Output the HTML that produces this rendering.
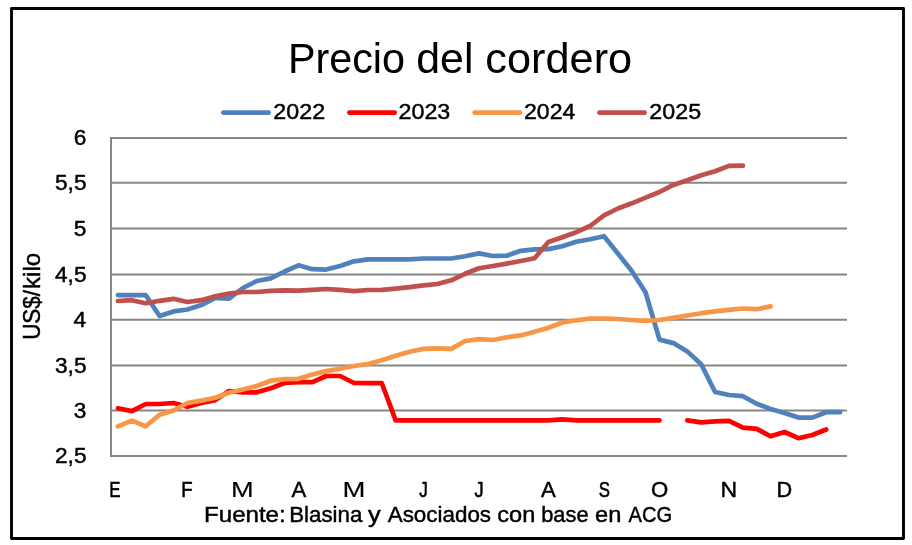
<!DOCTYPE html>
<html><head><meta charset="utf-8"><title>Precio del cordero</title>
<style>html,body{margin:0;padding:0;background:#fff;width:912px;height:545px;overflow:hidden}svg{display:block;will-change:transform}</style>
</head><body>
<svg width="912" height="545" viewBox="0 0 912 545">
<rect x="11.5" y="8.5" width="892" height="530" fill="#fff" stroke="#000" stroke-width="2.9" stroke-linejoin="round"/>
<line x1="110" y1="138.00" x2="847" y2="138.00" stroke="#868686" stroke-width="2"/>
<line x1="110" y1="182.70" x2="847" y2="182.70" stroke="#868686" stroke-width="2"/>
<line x1="110" y1="228.60" x2="847" y2="228.60" stroke="#868686" stroke-width="2"/>
<line x1="110" y1="274.60" x2="847" y2="274.60" stroke="#868686" stroke-width="2"/>
<line x1="110" y1="319.70" x2="847" y2="319.70" stroke="#868686" stroke-width="2"/>
<line x1="110" y1="365.60" x2="847" y2="365.60" stroke="#868686" stroke-width="2"/>
<line x1="110" y1="410.60" x2="847" y2="410.60" stroke="#868686" stroke-width="2"/>
<line x1="110" y1="456.00" x2="847" y2="456.00" stroke="#868686" stroke-width="2"/>
<line x1="111" y1="137" x2="111" y2="457" stroke="#868686" stroke-width="2"/>
<text transform="translate(73.82 145.00) scale(1.0300 1)" font-size="22" font-family="'Liberation Sans', Arial, sans-serif" stroke="#000" stroke-width="0.45">6</text>
<text transform="translate(55.01 189.70) scale(1.0300 1)" font-size="22" font-family="'Liberation Sans', Arial, sans-serif" stroke="#000" stroke-width="0.45">5,5</text>
<text transform="translate(73.82 235.60) scale(1.0300 1)" font-size="22" font-family="'Liberation Sans', Arial, sans-serif" stroke="#000" stroke-width="0.45">5</text>
<text transform="translate(55.01 281.60) scale(1.0300 1)" font-size="22" font-family="'Liberation Sans', Arial, sans-serif" stroke="#000" stroke-width="0.45">4,5</text>
<text transform="translate(73.59 326.70) scale(1.0300 1)" font-size="22" font-family="'Liberation Sans', Arial, sans-serif" stroke="#000" stroke-width="0.45">4</text>
<text transform="translate(55.01 372.60) scale(1.0300 1)" font-size="22" font-family="'Liberation Sans', Arial, sans-serif" stroke="#000" stroke-width="0.45">3,5</text>
<text transform="translate(73.82 417.60) scale(1.0300 1)" font-size="22" font-family="'Liberation Sans', Arial, sans-serif" stroke="#000" stroke-width="0.45">3</text>
<text transform="translate(55.01 463.00) scale(1.0300 1)" font-size="22" font-family="'Liberation Sans', Arial, sans-serif" stroke="#000" stroke-width="0.45">2,5</text>
<text transform="translate(109.30 496.90) scale(0.7384 1)" font-size="22.9" font-family="'Liberation Sans', Arial, sans-serif" stroke="#000" stroke-width="0.60">E</text>
<text transform="translate(181.36 496.90) scale(0.8122 1)" font-size="22.9" font-family="'Liberation Sans', Arial, sans-serif" stroke="#000" stroke-width="0.60">F</text>
<text transform="translate(231.07 496.90) scale(1.1880 1)" font-size="22.9" font-family="'Liberation Sans', Arial, sans-serif" stroke="#000" stroke-width="0.15">M</text>
<text transform="translate(291.40 496.90) scale(0.9660 1)" font-size="22.9" font-family="'Liberation Sans', Arial, sans-serif" stroke="#000" stroke-width="0.45">A</text>
<text transform="translate(342.45 496.90) scale(1.2009 1)" font-size="22.9" font-family="'Liberation Sans', Arial, sans-serif" stroke="#000" stroke-width="0.15">M</text>
<text transform="translate(419.16 496.90) scale(0.7456 1)" font-size="22.9" font-family="'Liberation Sans', Arial, sans-serif" stroke="#000" stroke-width="0.60">J</text>
<text transform="translate(474.58 496.90) scale(0.7988 1)" font-size="22.9" font-family="'Liberation Sans', Arial, sans-serif" stroke="#000" stroke-width="0.60">J</text>
<text transform="translate(541.00 496.90) scale(0.9660 1)" font-size="22.9" font-family="'Liberation Sans', Arial, sans-serif" stroke="#000" stroke-width="0.45">A</text>
<text transform="translate(598.66 496.90) scale(0.7355 1)" font-size="22.9" font-family="'Liberation Sans', Arial, sans-serif" stroke="#000" stroke-width="0.60">S</text>
<text transform="translate(651.06 496.90) scale(0.9683 1)" font-size="22.9" font-family="'Liberation Sans', Arial, sans-serif" stroke="#000" stroke-width="0.45">O</text>
<text transform="translate(720.61 496.90) scale(1.0036 1)" font-size="22.9" font-family="'Liberation Sans', Arial, sans-serif" stroke="#000" stroke-width="0.45">N</text>
<text transform="translate(776.47 496.90) scale(0.9461 1)" font-size="22.9" font-family="'Liberation Sans', Arial, sans-serif" stroke="#000" stroke-width="0.45">D</text>
<text transform="rotate(-90) translate(-339.87 39.7) scale(0.9767 1)" font-size="23" font-family="'Liberation Sans', Arial, sans-serif" stroke="#000" stroke-width="0.45">US$/</text>
<text transform="rotate(-90) translate(-288.94 39.7) scale(1.0435 1)" font-size="23" font-family="'Liberation Sans', Arial, sans-serif" stroke="#000" stroke-width="0.45">kilo</text>
<text transform="translate(287.89 72.90) scale(0.9840 1)" font-size="42" font-family="'Liberation Sans', Arial, sans-serif">Precio</text>
<text transform="translate(416.29 72.90) scale(1.0201 1)" font-size="42" font-family="'Liberation Sans', Arial, sans-serif">del</text>
<text transform="translate(485.37 72.90) scale(1.0308 1)" font-size="42" font-family="'Liberation Sans', Arial, sans-serif">cordero</text>
<text transform="translate(204.07 521.70) scale(1.0603 1)" font-size="22.7" font-family="'Liberation Sans', Arial, sans-serif" stroke="#000" stroke-width="0.45">Fuente:</text>
<text transform="translate(289.21 521.70) scale(0.9829 1)" font-size="22.7" font-family="'Liberation Sans', Arial, sans-serif" stroke="#000" stroke-width="0.45">Blasina</text>
<text transform="translate(368.10 521.70) scale(1.1189 1)" font-size="22.7" font-family="'Liberation Sans', Arial, sans-serif" stroke="#000" stroke-width="0.45">y</text>
<text transform="translate(387.70 521.70) scale(0.9869 1)" font-size="22.7" font-family="'Liberation Sans', Arial, sans-serif" stroke="#000" stroke-width="0.45">Asociados</text>
<text transform="translate(497.26 521.70) scale(1.0386 1)" font-size="22.7" font-family="'Liberation Sans', Arial, sans-serif" stroke="#000" stroke-width="0.45">con</text>
<text transform="translate(541.19 521.70) scale(0.9619 1)" font-size="22.7" font-family="'Liberation Sans', Arial, sans-serif" stroke="#000" stroke-width="0.45">base</text>
<text transform="translate(595.05 521.70) scale(1.0424 1)" font-size="22.7" font-family="'Liberation Sans', Arial, sans-serif" stroke="#000" stroke-width="0.45">en</text>
<text transform="translate(628.60 521.70) scale(0.8874 1)" font-size="22.7" font-family="'Liberation Sans', Arial, sans-serif" stroke="#000" stroke-width="0.45">ACG</text>
<line x1="223.3" y1="112.6" x2="268.7" y2="112.6" stroke="#4F81BD" stroke-width="4.6" stroke-linecap="round"/>
<text transform="translate(273.34 118.90) scale(1.0169 1)" font-size="22.9" font-family="'Liberation Sans', Arial, sans-serif" stroke="#000" stroke-width="0.45">2022</text>
<line x1="349.3" y1="112.6" x2="394.7" y2="112.6" stroke="#FF0000" stroke-width="4.6" stroke-linecap="round"/>
<text transform="translate(398.54 118.90) scale(1.0169 1)" font-size="22.9" font-family="'Liberation Sans', Arial, sans-serif" stroke="#000" stroke-width="0.45">2023</text>
<line x1="474.6" y1="112.6" x2="520.0" y2="112.6" stroke="#F79646" stroke-width="4.6" stroke-linecap="round"/>
<text transform="translate(524.05 118.90) scale(1.0074 1)" font-size="22.9" font-family="'Liberation Sans', Arial, sans-serif" stroke="#000" stroke-width="0.45">2024</text>
<line x1="599.3" y1="112.6" x2="644.7" y2="112.6" stroke="#C0504D" stroke-width="4.6" stroke-linecap="round"/>
<text transform="translate(649.34 118.90) scale(1.0169 1)" font-size="22.9" font-family="'Liberation Sans', Arial, sans-serif" stroke="#000" stroke-width="0.45">2025</text>
<path d="M117.9 295.1 L131.8 295.1 L145.7 295.1 L159.6 316.0 L173.5 311.4 L187.4 309.5 L201.3 305.1 L215.2 298.0 L229.0 298.7 L242.9 288.0 L256.8 281.0 L270.7 278.4 L284.6 271.5 L298.5 265.3 L312.4 269.2 L326.2 269.6 L340.1 266.0 L354.0 261.3 L367.9 259.3 L381.8 259.3 L395.7 259.3 L409.6 259.3 L423.5 258.5 L437.3 258.5 L451.2 258.5 L465.1 256.3 L479.0 253.4 L492.9 256.0 L506.8 255.7 L520.7 250.8 L534.6 249.4 L548.4 249.1 L562.3 246.3 L576.2 241.8 L590.1 239.3 L604.0 236.2 L617.9 253.5 L631.8 271.0 L645.6 292.5 L659.5 339.6 L673.4 343.1 L687.3 351.4 L701.2 364.3 L715.1 392.0 L729.0 395.0 L742.9 396.2 L756.7 403.8 L770.6 409.0 L784.5 413.0 L798.4 417.6 L812.3 417.6 L826.2 412.2 L840.1 412.2" fill="none" stroke="#4F81BD" stroke-width="4.7" stroke-linecap="round" stroke-linejoin="round"/>
<path d="M117.9 408.3 L131.8 411.1 L145.7 404.0 L159.6 404.0 L173.5 403.0 L187.4 406.8 L201.3 403.0 L215.2 400.1 L229.0 391.0 L242.9 392.5 L256.8 392.3 L270.7 388.2 L284.6 383.0 L298.5 382.2 L312.4 382.2 L326.2 376.0 L340.1 376.0 L354.0 383.0 L367.9 383.2 L381.8 383.2 L395.7 420.4 L409.6 420.4 L423.5 420.4 L437.3 420.4 L451.2 420.4 L465.1 420.4 L479.0 420.4 L492.9 420.4 L506.8 420.4 L520.7 420.4 L534.6 420.4 L548.4 420.4 L562.3 419.4 L576.2 420.4 L590.1 420.4 L604.0 420.4 L617.9 420.4 L631.8 420.4 L645.6 420.4 L659.5 420.4 M687.3 420.4 L701.2 422.4 L715.1 421.4 L729.0 420.9 L742.9 427.6 L756.7 428.9 L770.6 436.3 L784.5 432.0 L798.4 438.2 L812.3 435.0 L826.2 429.5" fill="none" stroke="#FF0000" stroke-width="4.7" stroke-linecap="round" stroke-linejoin="round"/>
<path d="M117.9 426.3 L131.8 420.6 L145.7 426.3 L159.6 414.8 L173.5 410.5 L187.4 403.0 L201.3 400.6 L215.2 397.7 L229.0 392.7 L242.9 389.5 L256.8 386.0 L270.7 380.7 L284.6 379.1 L298.5 378.8 L312.4 374.5 L326.2 371.1 L340.1 368.8 L354.0 366.0 L367.9 364.0 L381.8 360.3 L395.7 355.7 L409.6 351.7 L423.5 348.9 L437.3 348.3 L451.2 348.9 L465.1 341.0 L479.0 339.2 L492.9 340.0 L506.8 337.3 L520.7 335.4 L534.6 331.7 L548.4 327.7 L562.3 322.5 L576.2 320.3 L590.1 318.5 L604.0 318.5 L617.9 319.0 L631.8 320.0 L645.6 320.9 L659.5 320.0 L673.4 317.9 L687.3 315.5 L701.2 313.2 L715.1 311.3 L729.0 309.9 L742.9 308.5 L756.7 309.2 L770.6 306.4" fill="none" stroke="#F79646" stroke-width="4.7" stroke-linecap="round" stroke-linejoin="round"/>
<path d="M117.9 301.0 L131.8 300.2 L145.7 303.3 L159.6 300.8 L173.5 298.8 L187.4 302.0 L201.3 300.2 L215.2 296.3 L229.0 293.6 L242.9 292.0 L256.8 292.0 L270.7 290.8 L284.6 290.4 L298.5 290.7 L312.4 289.9 L326.2 289.0 L340.1 289.9 L354.0 291.1 L367.9 290.0 L381.8 289.8 L395.7 288.7 L409.6 287.2 L423.5 285.3 L437.3 284.0 L451.2 280.3 L465.1 273.8 L479.0 268.2 L492.9 266.0 L506.8 263.6 L520.7 261.0 L534.6 258.2 L548.4 242.0 L562.3 237.3 L576.2 232.2 L590.1 226.0 L604.0 215.3 L617.9 208.5 L631.8 203.3 L645.6 197.6 L659.5 192.0 L673.4 184.9 L687.3 180.3 L701.2 175.3 L715.1 171.2 L729.0 165.9 L742.9 165.6" fill="none" stroke="#C0504D" stroke-width="4.7" stroke-linecap="round" stroke-linejoin="round"/>
</svg>
</body></html>
